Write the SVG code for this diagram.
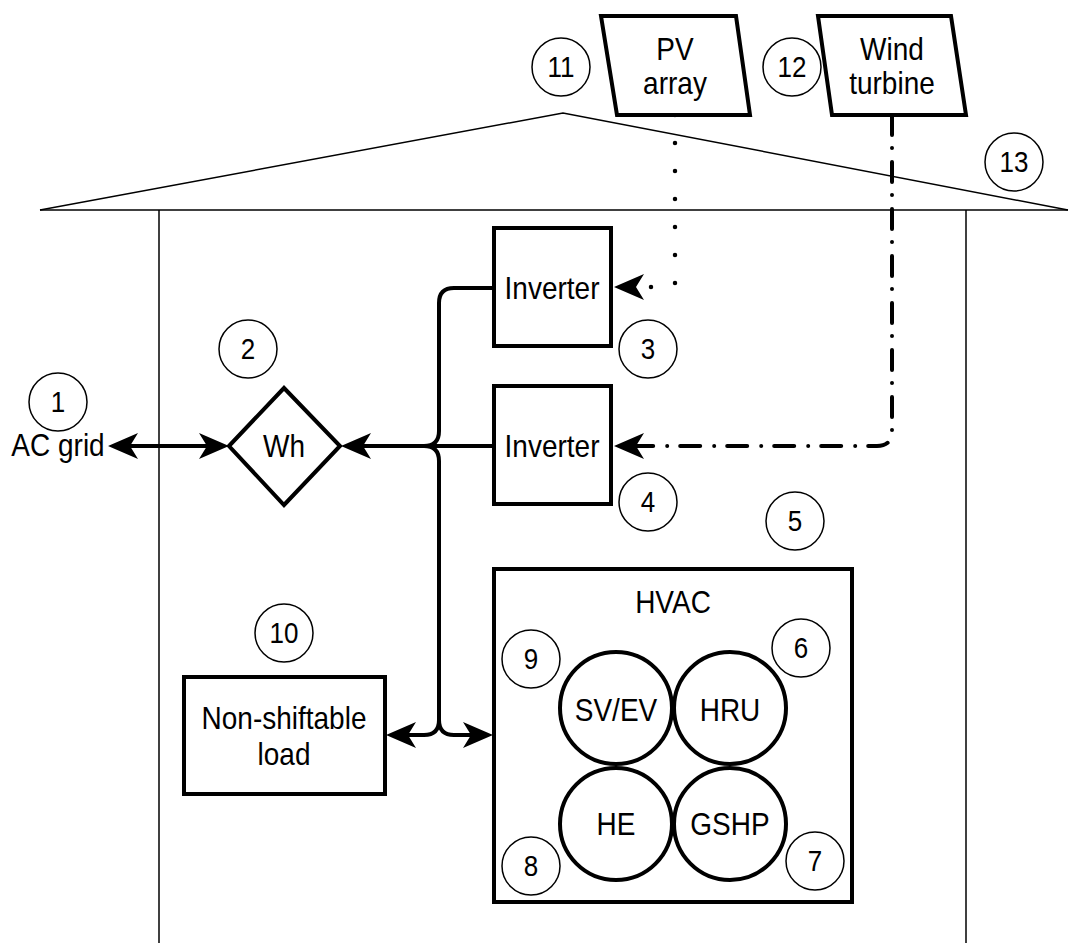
<svg xmlns="http://www.w3.org/2000/svg" width="1071" height="943" viewBox="0 0 1071 943">
<style>
text{font-family:"Liberation Sans",Arial,sans-serif;fill:#000;text-anchor:middle}
.lbl{font-size:28px}
.num{font-size:26px}
.box{fill:#fff;stroke:#000;stroke-width:4}
.ncirc{fill:#fff;stroke:#000;stroke-width:1.5}
.thin{fill:none;stroke:#000;stroke-width:1.5}
.conn{fill:none;stroke:#000;stroke-width:4}
.dot{fill:none;stroke:#000;stroke-width:4.5;stroke-linecap:round;stroke-dasharray:0 28}
.dashdot{fill:none;stroke:#000;stroke-width:4;stroke-linecap:round;stroke-dasharray:20 13 0 14}
</style>
<defs>
<marker id="arr" viewBox="-24 -14 34 28" markerWidth="34" markerHeight="28" refX="0" refY="0" orient="auto-start-reverse" markerUnits="userSpaceOnUse">
<path d="M8,0 L-22,-13 L-14,0 L-22,13 Z" fill="#000"/>
</marker>
</defs>
<rect width="1071" height="943" fill="#fff"/>
<g id="house">
<polyline class="thin" points="40,210 563,113 1068,210"/>
<line class="thin" x1="40" y1="210" x2="1068" y2="210"/>
<line class="thin" x1="159" y1="210" x2="159" y2="943"/>
<line class="thin" x1="966" y1="210" x2="966" y2="943"/>
</g>
<g id="connectors">
<line class="conn" x1="116" y1="446" x2="221" y2="446" marker-start="url(#arr)" marker-end="url(#arr)"/>
<path class="conn" d="M493,446 H349" marker-end="url(#arr)"/>
<path class="conn" d="M493,288 H454 Q439,288 439,303 V431 Q439,446 424,446"/>
<path class="conn" d="M424,446 Q439,446 439,461 V720 Q439,735 424,735 H394" marker-end="url(#arr)"/>
<path class="conn" d="M439,720 Q439,735 454,735 H485" marker-end="url(#arr)"/>
<path class="dot" d="M675,115 V287 H622"/>
<path class="conn" d="M630,287 H622" marker-end="url(#arr)" stroke="none"/>
<path class="dashdot" d="M892,115 V431 Q892,446 877,446 H622"/>
<path class="conn" d="M630,446 H622" marker-end="url(#arr)" stroke="none"/>
</g>
<g id="n11"><circle class="ncirc" cx="561" cy="67" r="29"/><text class="num" transform="translate(561 77) scale(1 1.1)">11</text></g>
<g id="pv"><polygon class="box" points="601,16 736,16 750,115 617,115"/><text class="lbl" transform="translate(675 60) scale(1 1.12)">PV</text><text class="lbl" transform="translate(675 94) scale(1 1.12)">array</text></g>
<g id="n12"><circle class="ncirc" cx="792" cy="67" r="29"/><text class="num" transform="translate(792 77) scale(1 1.1)">12</text></g>
<g id="wind"><polygon class="box" points="818,16 951,16 966,115 832,115"/><text class="lbl" transform="translate(892 60) scale(1 1.12)">Wind</text><text class="lbl" transform="translate(892 94) scale(1 1.12)">turbine</text></g>
<g id="n13"><circle class="ncirc" cx="1014" cy="162" r="29"/><text class="num" transform="translate(1014 172) scale(1 1.1)">13</text></g>
<g id="n1"><circle class="ncirc" cx="58" cy="402" r="29"/><text class="num" transform="translate(58 412) scale(1 1.1)">1</text></g>
<g id="acgrid"><text class="lbl" transform="translate(58 456) scale(1 1.12)">AC grid</text></g>
<g id="n2"><circle class="ncirc" cx="248" cy="349" r="29"/><text class="num" transform="translate(248 359) scale(1 1.1)">2</text></g>
<g id="wh"><polygon class="box" points="229,446 284,388 340,446 284,505"/><text class="lbl" transform="translate(284 457) scale(1 1.12)">Wh</text></g>
<g id="inv1"><rect class="box" x="494" y="228" width="117" height="118"/><text class="lbl" transform="translate(552 299) scale(1 1.12)">Inverter</text></g>
<g id="n3"><circle class="ncirc" cx="648" cy="349" r="29"/><text class="num" transform="translate(648 359) scale(1 1.1)">3</text></g>
<g id="inv2"><rect class="box" x="494" y="386" width="117" height="118"/><text class="lbl" transform="translate(552 457) scale(1 1.12)">Inverter</text></g>
<g id="n4"><circle class="ncirc" cx="648" cy="502" r="29"/><text class="num" transform="translate(648 512) scale(1 1.1)">4</text></g>
<g id="n5"><circle class="ncirc" cx="795" cy="521" r="29"/><text class="num" transform="translate(795 531) scale(1 1.1)">5</text></g>
<g id="n10"><circle class="ncirc" cx="284" cy="633" r="29"/><text class="num" transform="translate(284 643) scale(1 1.1)">10</text></g>
<g id="load"><rect class="box" x="184" y="677" width="201" height="117"/><text class="lbl" transform="translate(284 729) scale(1 1.12)">Non-shiftable</text><text class="lbl" transform="translate(284 765) scale(1 1.12)">load</text></g>
<g id="hvac"><rect class="box" x="494" y="569" width="358" height="333"/><text class="lbl" transform="translate(673 613) scale(1 1.12)">HVAC</text></g>
<g id="n9"><circle class="ncirc" cx="531" cy="659" r="29"/><text class="num" transform="translate(531 669) scale(1 1.1)">9</text></g>
<g id="n6"><circle class="ncirc" cx="801" cy="648" r="29"/><text class="num" transform="translate(801 658) scale(1 1.1)">6</text></g>
<g id="n8"><circle class="ncirc" cx="531" cy="866" r="29"/><text class="num" transform="translate(531 876) scale(1 1.1)">8</text></g>
<g id="n7"><circle class="ncirc" cx="815" cy="861" r="29"/><text class="num" transform="translate(815 871) scale(1 1.1)">7</text></g>
<g id="svev"><circle class="box" cx="616" cy="708" r="56"/><text class="lbl" transform="translate(616 721) scale(1 1.12)">SV/EV</text></g>
<g id="hru"><circle class="box" cx="730" cy="708" r="56"/><text class="lbl" transform="translate(730 721) scale(1 1.12)">HRU</text></g>
<g id="he"><circle class="box" cx="616" cy="824" r="56"/><text class="lbl" transform="translate(616 835) scale(1 1.12)">HE</text></g>
<g id="gshp"><circle class="box" cx="730" cy="824" r="56"/><text class="lbl" transform="translate(730 835) scale(1 1.12)">GSHP</text></g>
</svg>
